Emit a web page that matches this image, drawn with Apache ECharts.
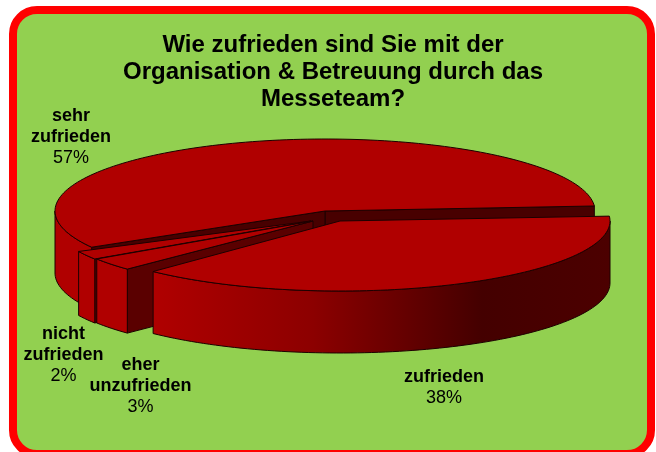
<!DOCTYPE html>
<html><head><meta charset="utf-8">
<style>html,body{margin:0;padding:0;background:#fff}#c{width:656px;height:452px}</style>
<script src="https://cdn.jsdelivr.net/npm/echarts@6/dist/echarts.min.js"></script>
</head><body><div id="c"></div>
<script>
const titleText = 'Wie zufrieden sind Sie mit der\nOrganisation & Betreuung durch das\nMesseteam?';
const categories = ['zufrieden', 'eher unzufrieden', 'nicht zufrieden', 'sehr zufrieden'];
const shares = [38, 3, 2, 57];

// layout of the exploded 3D pie (style only, not data)
const startDeg = 1;
const depths = [62, 64, 64, 62];
const centres = [[340, 221], [313, 221], [311, 221], [325, 211]];
const radii = [[270, 70], [259, 69], [259, 69], [270, 72]];
const startTrim = [3, 0, 0, 4];
const endTrim = [2, 0, 0, 3];
const cutColor = [null, '#5a0000', '#5a0000', '#480000'];
const labelPos = [[444, 367], [140.5, 355], [63.5, 324], [71, 106]];

const total = shares.reduce((a, b) => a + b, 0);
const sweep = [];
let acc = startDeg;
shares.forEach(v => { const s = acc; acc -= v / total * 360; sweep.push(s); });

function pt(i, deg, dy) {
  const r = deg * Math.PI / 180;
  return [centres[i][0] + radii[i][0] * Math.cos(r),
          centres[i][1] - radii[i][1] * Math.sin(r) + (dy || 0)];
}
function arc(i, a, b, dy) {
  const n = Math.max(2, Math.ceil(Math.abs(a - b) / 1.5));
  const out = [];
  for (let k = 0; k <= n; k++) out.push(pt(i, a + (b - a) * k / n, dy));
  return out;
}
const EDGE = '#1c0000';

function renderItem(params, api) {
  const i = params.dataIndex;
  const share = api.value(0);
  const depth = depths[i];
  const a = sweep[i] + startTrim[i];
  const b = sweep[i] - share / total * 360 + endTrim[i];
  const base = (categories.length - i) * 10;
  const ch = [];
  const poly = (points, fill, z) => ch.push({
    type: 'polygon', z2: base + z, shape: { points },
    style: { fill, stroke: EDGE, lineWidth: 1, lineJoin: 'round' }, silent: true
  });
  const c = centres[i];
  const cut = (deg, z) => {
    const p = pt(i, deg);
    poly([c, p, [p[0], p[1] + depth], [c[0], c[1] + depth]], cutColor[i], z);
  };
  if (i === 3) {
    // back slice: both cut faces look at the viewer, rim only on the left
    cut(b, 0);
    cut(a, 1);
    poly(arc(i, a, -180).concat(arc(i, -180, a, depth)), '#b00000', 2);
  } else {
    if (cutColor[i]) cut(a, 0);
    const fill = i === 0
      ? new echarts.graphic.LinearGradient(153, 0, 610, 0, [
          { offset: 0, color: '#b00000' },
          { offset: 0.35, color: '#8c0000' },
          { offset: 0.72, color: '#440000' },
          { offset: 1, color: '#4c0000' }], true)
      : '#b00000';
    const rimStart = i === 0 ? 0 : a;
    poly(arc(i, rimStart, b).concat(arc(i, b, rimStart, depth)), fill, 2);
  }
  poly([c].concat(arc(i, a, b)), '#b00000', 3);
  const words = categories[i].split(' ').map(w => '{b|' + w + '}').join('\n');
  ch.push({
    type: 'text', z2: 200, silent: true,
    style: {
      x: labelPos[i][0], y: labelPos[i][1], align: 'center', verticalAlign: 'top',
      text: words + '\n{r|' + share + '%}',
      rich: {
        b: { font: 'bold 18px "Liberation Sans"', fill: '#000', lineHeight: 21, align: 'center' },
        r: { font: '18px "Liberation Sans"', fill: '#000', lineHeight: 21, align: 'center' }
      }
    }
  });
  return { type: 'group', children: ch };
}

const chart = echarts.init(document.getElementById('c'), null, { renderer: 'canvas' });
chart.setOption({
  animation: false,
  backgroundColor: '#fff',
  title: {
    text: titleText, left: 328, top: 27, textAlign: 'center',
    textStyle: { fontFamily: 'Liberation Sans', fontWeight: 'bold', fontSize: 24, lineHeight: 27, color: '#000' }
  },
  graphic: [{
    type: 'rect', z: -10, silent: true,
    shape: { x: 13, y: 10, width: 638, height: 444, r: 24 },
    style: { fill: '#92d050', stroke: '#ff0000', lineWidth: 8 }
  }],
  series: [{
    type: 'custom', coordinateSystem: 'none', renderItem,
    data: shares.map((v, i) => ({ name: categories[i], value: [v] }))
  }]
});
</script></body></html>
